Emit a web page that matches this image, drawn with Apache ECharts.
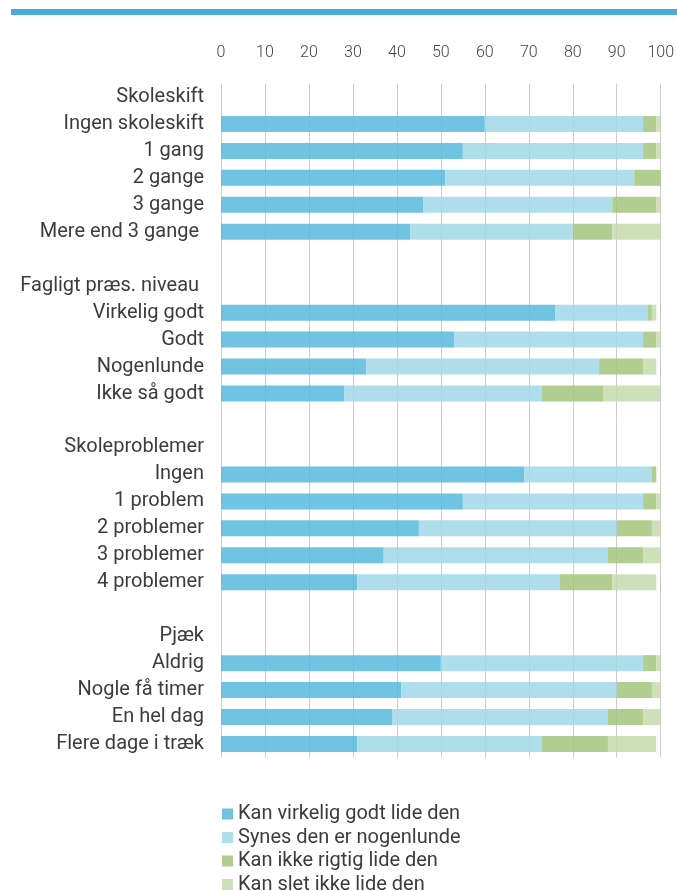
<!DOCTYPE html>
<html><head><meta charset="utf-8">
<script src="https://cdn.jsdelivr.net/npm/echarts@6/dist/echarts.min.js"></script>
<style>html,body{margin:0;padding:0;background:#fff}#c{width:677px;height:891px}</style>
</head><body><div id="c"></div>
<script>
const categories = ["Skoleskift","Ingen skoleskift","1 gang","2 gange","3 gange","Mere end 3 gange ","",
  "Fagligt præs. niveau ","Virkelig godt","Godt","Nogenlunde","Ikke så godt","",
  "Skoleproblemer","Ingen","1 problem","2 problemer","3 problemer","4 problemer","",
  "Pjæk","Aldrig","Nogle få timer","En hel dag","Flere dage i træk"];
const seriesNames = ["Kan virkelig godt lide den","Synes den er nogenlunde","Kan ikke rigtig lide den","Kan slet ikke lide den"];
const virkeligGodt = [null,60,55,51,46,43,null,null,76,53,33,28,null,null,69,55,45,37,31,null,null,50,41,39,31];
const nogenlunde   = [null,36,41,43,43,37,null,null,21,43,53,45,null,null,29,41,45,51,46,null,null,46,49,49,42];
const ikkeRigtig   = [null,3,3,6,10,9,null,null,1,3,10,14,null,null,1,3,8,8,12,null,null,3,8,8,15];
const sletIkke     = [null,1,1,0,1,11,null,null,1,1,3,13,null,null,0,1,2,4,10,null,null,1,2,4,11];
const xTicks = [0,10,20,30,40,50,60,70,80,90,100];
const colors = ["#57badd","#a0d7e9","#a3c47b","#c6dbad"];
const values = [virkeligGodt, nogenlunde, ikkeRigtig, sletIkke];

const chart = echarts.init(document.getElementById('c'), null, {renderer:'canvas'});
const font = "Roboto, 'Noto Sans', sans-serif";
chart.setOption({
  animation:false,
  graphic:[{type:'rect', shape:{x:11,y:9,width:666,height:6}, style:{fill:'#4aabd8'}}],
  grid:{left:221, width:440, top:83.5, height:674},
  xAxis:{type:'value', position:'top', min:xTicks[0], max:xTicks[xTicks.length-1], interval:10,
    axisLine:{show:false}, axisTick:{show:false},
    splitLine:{show:true, lineStyle:{color:'#cccccc', width:1}},
    axisLabel:{margin:23, color:'#444', fontSize:16, fontFamily:font, fontWeight:300}},
  yAxis:{type:'category', inverse:true, data:categories,
    axisLine:{show:false}, axisTick:{show:false},
    axisLabel:{margin:17, color:'#3c3c3c', fontSize:20, fontFamily:font, fontWeight:'normal', interval:0}},
  legend:{orient:'vertical', left:222, top:804, height:150, padding:0, itemWidth:11, itemHeight:11, itemGap:3.5,
    icon:'rect', data:seriesNames,
    textStyle:{fontSize:20, fontFamily:font, fontWeight:'normal', color:'#3c3c3c', lineHeight:18}},
  series: seriesNames.map((n,i)=>({
    name:n, type:'bar', stack:'all', data:values[i], barWidth:16,
    itemStyle:{color:colors[i], opacity:0.85}, emphasis:{disabled:true}
  }))
});
</script></body></html>
